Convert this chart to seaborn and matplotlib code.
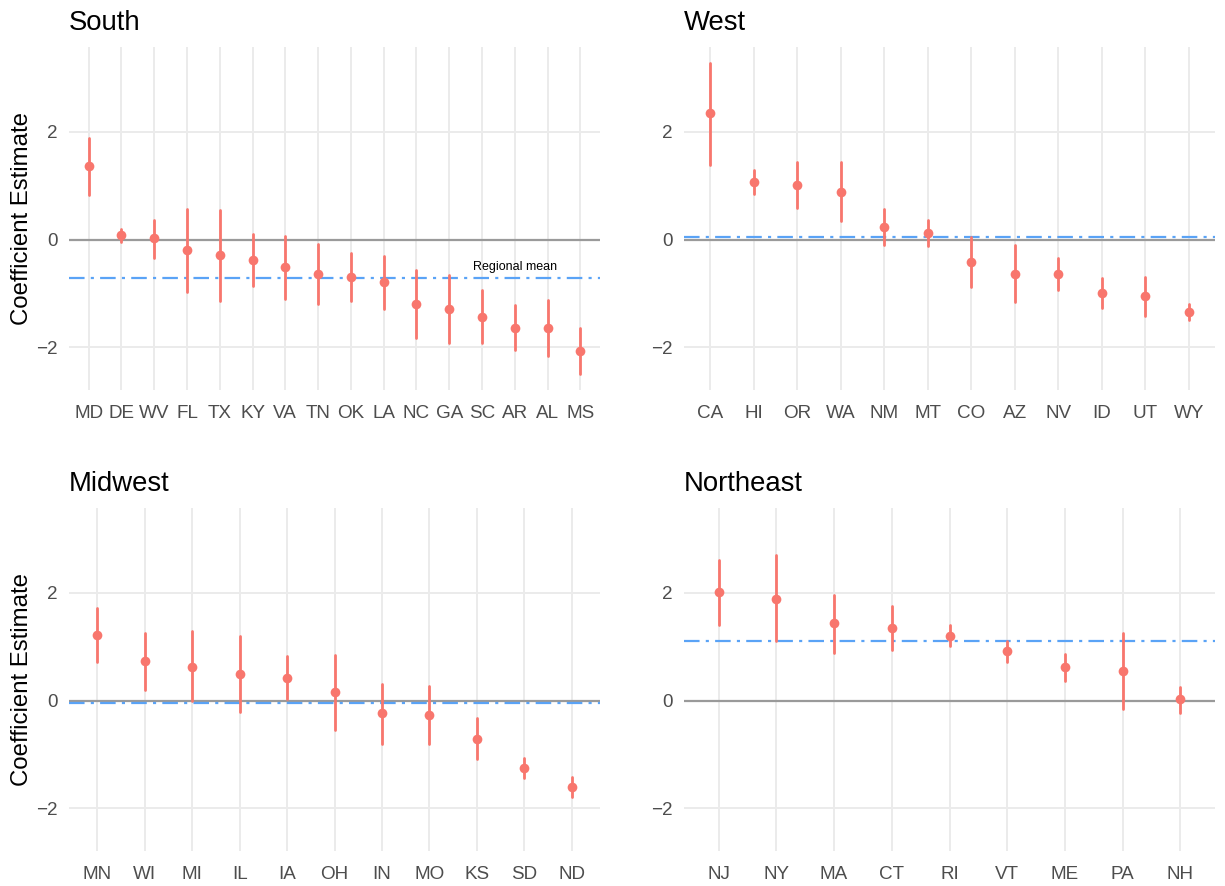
import numpy as np
import pandas as pd
import matplotlib
matplotlib.use("Agg")
import matplotlib.pyplot as plt
import seaborn as sns

# ---------------- data ----------------
south_states = ["MD", "DE", "WV", "FL", "TX", "KY", "VA", "TN", "OK", "LA", "NC", "GA", "SC", "AR", "AL", "MS"]
south_est = [1.36, 0.08, 0.02, -0.20, -0.29, -0.37, -0.51, -0.64, -0.70, -0.79, -1.19, -1.28, -1.43, -1.64, -1.64, -2.07]
south_lo = [0.83, -0.04, -0.34, -0.98, -1.13, -0.86, -1.10, -1.19, -1.14, -1.28, -1.82, -1.91, -1.91, -2.04, -2.15, -2.50]
south_hi = [1.88, 0.20, 0.36, 0.57, 0.54, 0.11, 0.07, -0.09, -0.25, -0.30, -0.57, -0.65, -0.94, -1.22, -1.12, -1.64]

west_states = ["CA", "HI", "OR", "WA", "NM", "MT", "CO", "AZ", "NV", "ID", "UT", "WY"]
west_est = [2.35, 1.07, 1.02, 0.88, 0.23, 0.12, -0.42, -0.63, -0.64, -1.00, -1.05, -1.34]
west_lo = [1.39, 0.85, 0.58, 0.34, -0.10, -0.12, -0.88, -1.15, -0.94, -1.27, -1.41, -1.49]
west_hi = [3.28, 1.28, 1.44, 1.43, 0.56, 0.37, 0.05, -0.11, -0.34, -0.72, -0.69, -1.19]

midwest_states = ["MN", "WI", "MI", "IL", "IA", "OH", "IN", "MO", "KS", "SD", "ND"]
midwest_est = [1.21, 0.73, 0.62, 0.50, 0.42, 0.16, -0.24, -0.27, -0.71, -1.25, -1.60]
midwest_lo = [0.72, 0.20, 0.00, -0.21, 0.02, -0.54, -0.80, -0.81, -1.09, -1.44, -1.78]
midwest_hi = [1.72, 1.25, 1.28, 1.20, 0.82, 0.85, 0.31, 0.27, -0.33, -1.07, -1.41]

northeast_states = ["NJ", "NY", "MA", "CT", "RI", "VT", "ME", "PA", "NH"]
northeast_est = [2.01, 1.88, 1.43, 1.35, 1.20, 0.91, 0.62, 0.55, 0.02]
northeast_lo = [1.40, 1.10, 0.88, 0.94, 1.01, 0.71, 0.36, -0.15, -0.23]
northeast_hi = [2.61, 2.69, 1.96, 1.75, 1.40, 1.11, 0.87, 1.25, 0.25]

region_names = ["South", "West", "Midwest", "Northeast"]
y_ticks = [-2, 0, 2]
y_title = "Coefficient Estimate"
mean_label = "Regional mean"

# ---------------- style ----------------
sns.set_theme(style="whitegrid")
plt.rcParams["font.family"] = ["Liberation Sans", "DejaVu Sans"]

W, H = 1225, 886
fig = plt.figure(figsize=(W / 100, H / 100), dpi=100)

point_col = "#F8766D"
mean_col = "#5AA3F6"
grid_col = "#EBEBEB"

panels = [
    (south_states, south_est, south_lo, south_hi),
    (west_states, west_est, west_lo, west_hi),
    (midwest_states, midwest_est, midwest_lo, midwest_hi),
    (northeast_states, northeast_est, northeast_lo, northeast_hi),
]

all_lo = min(min(p[2]) for p in panels)
all_hi = max(max(p[3]) for p in panels)
rng = all_hi - all_lo
ylim = (all_lo - 0.05 * rng, all_hi + 0.05 * rng)

# panel boxes in pixels: left, top, right, bottom
boxes = [(69, 47, 600, 390), (684, 47, 1215, 390), (69, 508, 600, 851), (684, 508, 1215, 851)]

for i, ((states, est, lo, hi), name, box) in enumerate(zip(panels, region_names, boxes)):
    l, t, r, b = box
    ax = fig.add_axes([l / W, 1 - b / H, (r - l) / W, (b - t) / H])
    df = pd.DataFrame({
        "state": np.repeat(states, 3),
        "value": np.ravel(np.column_stack([lo, est, hi])),
    })
    ax.axhline(0, color="#9A9A9A", lw=1.6, zorder=1.5)
    mean_val = float(np.mean(est))
    ax.axhline(mean_val, color=mean_col, lw=1.6, zorder=1.6,
               linestyle=(0, (7, 2.8, 1.4, 2.8)))
    sns.pointplot(data=df, x="state", y="value", order=states,
                  estimator="median", errorbar=lambda v: (v.min(), v.max()),
                  color=point_col, marker="o", linestyle="none",
                  markersize=7, markeredgewidth=0,
                  err_kws={"linewidth": 2.0}, capsize=0, ax=ax)
    n = len(states)
    ax.set_xlim(-0.6, n - 0.4)
    ax.set_ylim(*ylim)
    ax.set_yticks(y_ticks)
    ax.xaxis.grid(True, color=grid_col, lw=1.4)
    ax.yaxis.grid(True, color=grid_col, lw=1.4)
    ax.set_axisbelow(True)
    for s in ax.spines.values():
        s.set_visible(False)
    ax.tick_params(axis="both", length=0, labelsize=13.6, labelcolor="#4D4D4D")
    ax.tick_params(axis="x", pad=10.5)
    ax.tick_params(axis="y", pad=8)
    ax.set_xlabel("")
    if i % 2 == 0:
        ax.set_ylabel(y_title, fontsize=17.3, color="black", labelpad=2.5)
    else:
        ax.set_ylabel("")
    ax.set_title(name, loc="left", fontsize=19.8, color="black", pad=12)
    if i == 0:
        ax.text(n - 3, mean_val + 0.19, mean_label, ha="center", va="center",
                fontsize=9, color="black")

fig.savefig("out.png", dpi=100)
